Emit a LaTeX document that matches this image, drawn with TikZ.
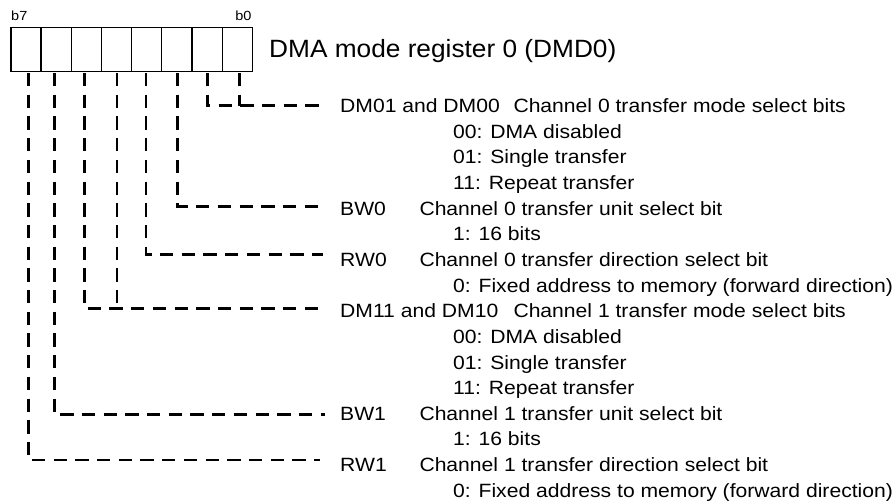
\documentclass[tikz,border=0pt]{standalone}
\usepackage{fontspec}
\setmainfont{Liberation Sans}[FakeStretch=1.1]
\newfontfamily\titlefont{Liberation Sans}[FakeStretch=1.05]
\begin{document}
\begin{tikzpicture}[x=1pt,y=-1pt,
  cell/.style={draw, line width=1.3pt, minimum width=30.175pt, minimum height=44.3pt, inner sep=0pt, anchor=north west},
  conn/.style={line width=2.5pt, dash pattern=on 13.3pt off 8.4pt},
  txt/.style={anchor=base west, inner sep=0pt, font=\fontsize{19.2}{23}\selectfont},
  small/.style={inner sep=0pt, font=\fontsize{13.2}{15}\selectfont},
  title/.style={anchor=base west, inner sep=0pt, font=\titlefont\fontsize{25}{30}\selectfont}]
\useasboundingbox (0,0) rectangle (896,501);

% register cells (b7 left ... b0 right)
\foreach \i in {0,...,7}{
  \pgfmathtruncatemacro{\b}{7-\i}
  \node[cell] (c\b) at ({10.3+\i*30.175},26.7) {};
}
\node[small, anchor=base west] (lb7) at (11,20.5) {b7};
\node[small, anchor=base east] (lb0) at (251.7,20.5) {b0};
\node[title] (ttl) at (269,57.3) {DMA mode register 0 (DMD0)};

% tops of the leader lines below each bit
\coordinate (t7) at (28.3,73);
\coordinate (t6) at (54.3,73);
\coordinate (t5) at (84.3,73);
\coordinate (t4) at (117,73);
\coordinate (t3) at (146,73);
\coordinate (t2) at (177.7,73);
\coordinate (t1) at (207.7,73);
\coordinate (t0) at (239.3,73);

% ends of the leader lines
\coordinate (e0) at (325,105.5);
\coordinate (e2) at (325,206.5);
\coordinate (e3) at (323,254.3);
\coordinate (e4) at (326,308.3);
\coordinate (e6) at (325,414.3);
\coordinate (e7) at (320,460);

% texts
\node[txt] (dm0lab) at (340,112.7) {DM01 and DM00};
\node[txt] (dm0desc) at (513.3,112.7) {Channel 0 transfer mode select bits};
\node[txt] (dm0a) at (453,138.33) {00: DMA disabled};
\node[txt] (dm0b) at (453,163.96) {01: Single transfer};
\node[txt] (dm0c) at (453,189.59) {11: Repeat transfer};
\node[txt] (bw0lab) at (340,215.22) {BW0};
\node[txt] (bw0desc) at (419.3,215.22) {Channel 0 transfer unit select bit};
\node[txt] (bw0a) at (453,240.85) {1: 16 bits};
\node[txt] (rw0lab) at (340,266.48) {RW0};
\node[txt] (rw0desc) at (419.3,266.48) {Channel 0 transfer direction select bit};
\node[txt] (rw0a) at (453,292.11) {0: Fixed address to memory (forward direction)};
\node[txt] (dm1lab) at (340,317.74) {DM11 and DM10};
\node[txt] (dm1desc) at (513.3,317.74) {Channel 1 transfer mode select bits};
\node[txt] (dm1a) at (453,343.37) {00: DMA disabled};
\node[txt] (dm1b) at (453,369.0) {01: Single transfer};
\node[txt] (dm1c) at (453,394.63) {11: Repeat transfer};
\node[txt] (bw1lab) at (340,420.26) {BW1};
\node[txt] (bw1desc) at (419.3,420.26) {Channel 1 transfer unit select bit};
\node[txt] (bw1a) at (453,445.89) {1: 16 bits};
\node[txt] (rw1lab) at (340,471.52) {RW1};
\node[txt] (rw1desc) at (419.3,471.52) {Channel 1 transfer direction select bit};
\node[txt] (rw1a) at (453,497.15) {0: Fixed address to memory (forward direction)};

% leader lines
\draw[conn] (t1) |- (e0);
\draw[conn] (t0) -- (t0 |- e0);
\draw[conn] (t2) |- (e2);
\draw[conn] (t3) |- (e3);
\draw[conn] (t5) |- (e4);
\draw[conn] (t4) -- (t4 |- e4);
\draw[conn] (t6) |- (e6);
\draw[conn] (t7) |- (e7);
\end{tikzpicture}
\end{document}
